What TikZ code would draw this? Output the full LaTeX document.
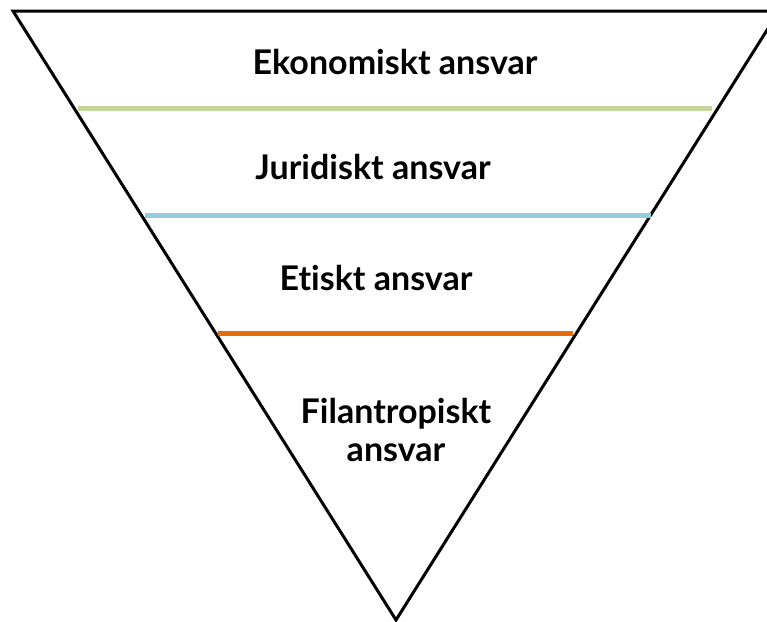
\documentclass[tikz,border=0pt]{standalone}
\usepackage{fontspec}
\setmainfont{Lato}[Ligatures=NoCommon]
\usetikzlibrary{positioning}
\definecolor{layergreen}{RGB}{195,214,155}
\definecolor{layerblue}{RGB}{146,205,221}
\definecolor{layerorange}{RGB}{228,108,10}

\begin{document}
\begin{tikzpicture}[
		x=1pt, y=-1pt,
		every node/.style={font=\fontsize{34}{38}\selectfont\bfseries},
		label/.style={
			align=center,
			inner sep=0pt
		},
		edge/.style={
			line width=3pt,
			line join=miter
		},
		divider/.style={
			line width=5pt
		}
		]
		\useasboundingbox (0,0) rectangle (767,621);
		
		% Corners
		\coordinate (topleft) at (13,11);
		\coordinate (topright) at (779,11);
		\coordinate (apex) at (396,620);
		
		% Triangle
		\draw[edge] (topleft) -- (topright) -- (apex) -- cycle;
		
		% Layer lines
		\coordinate (g1) at (78,108);
		\coordinate (g2) at (712,108);
		\coordinate (b1) at (145,215);
		\coordinate (b2) at (651,215);
		\coordinate (o1) at (218,333);
		\coordinate (o2) at (573,333);
		\draw[divider, layergreen] (g1) -- (g2);
		\draw[divider, layerblue] (b1) -- (b2);
		\draw[divider, layerorange] (o1) -- (o2);
		
		% Labels
		\node[label] (econ) at (395,62) {Ekonomiskt ansvar};
		\node[label] (legal) at (373,167) {Juridiskt ansvar};
		\node[label] (ethic) at (376,278) {Etiskt ansvar};
		\node[label] (phil) at (396,430) {Filantropiskt\\ansvar};
	\end{tikzpicture}
\end{document}
